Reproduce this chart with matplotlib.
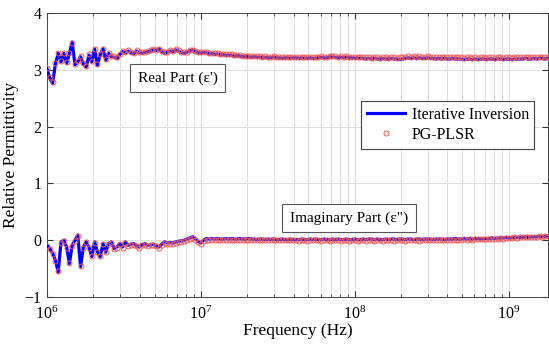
import numpy as np
import matplotlib
matplotlib.use("Agg")
import matplotlib.pyplot as plt
from matplotlib.ticker import LogLocator, NullFormatter

plt.rcParams["font.family"] = ["Liberation Serif", "DejaVu Serif"]
plt.rcParams["mathtext.fontset"] = "custom"
plt.rcParams["mathtext.rm"] = "Liberation Serif"
plt.rcParams["mathtext.it"] = "Liberation Serif:italic"

# Measurement grid: 180 log-spaced frequencies from 1 MHz to 1.8 GHz
freq_hz = np.geomspace(1e6, 1.8e9, 180)

real_iter = [
    3.02, 2.85, 2.76, 3.10, 3.29, 3.14, 3.29, 3.11, 3.29, 3.49,
    3.09, 3.14, 3.23, 3.10, 3.05, 3.26, 3.14, 3.37, 3.08, 3.26,
    3.37, 3.17, 3.29, 3.23, 3.22, 3.20, 3.27, 3.32, 3.30, 3.33,
    3.30, 3.28, 3.33, 3.31, 3.29, 3.31, 3.32, 3.33, 3.35, 3.34,
    3.37, 3.32, 3.29, 3.31, 3.33, 3.32, 3.35, 3.33, 3.31, 3.29,
    3.31, 3.33, 3.35, 3.32, 3.30, 3.29, 3.31, 3.30, 3.28, 3.29,
    3.27, 3.28, 3.26, 3.27, 3.25, 3.26, 3.25, 3.24, 3.25, 3.24,
    3.23, 3.24, 3.23, 3.22, 3.23, 3.22, 3.22, 3.21, 3.22, 3.21,
    3.21, 3.22, 3.21, 3.21, 3.20, 3.21, 3.21, 3.20, 3.21, 3.21,
    3.20, 3.21, 3.20, 3.20, 3.21, 3.20, 3.20, 3.21, 3.22, 3.21,
    3.21, 3.23, 3.22, 3.22, 3.21, 3.22, 3.21, 3.22, 3.21, 3.21,
    3.20, 3.21, 3.20, 3.20, 3.19, 3.20, 3.19, 3.20, 3.19, 3.19,
    3.20, 3.19, 3.19, 3.20, 3.19, 3.19, 3.18, 3.19, 3.20, 3.21,
    3.20, 3.21, 3.20, 3.21, 3.20, 3.20, 3.21, 3.20, 3.20, 3.19,
    3.20, 3.19, 3.20, 3.19, 3.19, 3.20, 3.19, 3.19, 3.19, 3.18,
    3.19, 3.19, 3.18, 3.19, 3.18, 3.19, 3.19, 3.18, 3.19, 3.19,
    3.18, 3.19, 3.19, 3.18, 3.19, 3.19, 3.18, 3.19, 3.19, 3.19,
    3.19, 3.20, 3.19, 3.19, 3.20, 3.19, 3.20, 3.20, 3.19, 3.20,
]

real_plsr = [
    3.04, 2.88, 2.79, 3.12, 3.30, 3.16, 3.30, 3.13, 3.30, 3.47,
    3.11, 3.15, 3.24, 3.12, 3.07, 3.27, 3.16, 3.37, 3.10, 3.27,
    3.37, 3.19, 3.30, 3.25, 3.24, 3.22, 3.28, 3.33, 3.31, 3.34,
    3.31, 3.30, 3.34, 3.32, 3.31, 3.32, 3.33, 3.34, 3.36, 3.35,
    3.37, 3.33, 3.31, 3.32, 3.34, 3.33, 3.36, 3.34, 3.32, 3.31,
    3.32, 3.34, 3.35, 3.33, 3.31, 3.31, 3.32, 3.31, 3.30, 3.30,
    3.29, 3.29, 3.28, 3.28, 3.27, 3.27, 3.27, 3.26, 3.26, 3.26,
    3.25, 3.25, 3.25, 3.24, 3.24, 3.24, 3.24, 3.23, 3.24, 3.23,
    3.23, 3.24, 3.23, 3.23, 3.22, 3.23, 3.23, 3.22, 3.23, 3.23,
    3.22, 3.23, 3.22, 3.22, 3.23, 3.22, 3.22, 3.23, 3.24, 3.23,
    3.23, 3.25, 3.24, 3.24, 3.23, 3.24, 3.23, 3.24, 3.23, 3.23,
    3.22, 3.23, 3.22, 3.22, 3.22, 3.22, 3.21, 3.22, 3.22, 3.21,
    3.22, 3.22, 3.21, 3.22, 3.22, 3.21, 3.22, 3.22, 3.23, 3.24,
    3.23, 3.24, 3.23, 3.24, 3.23, 3.23, 3.24, 3.23, 3.23, 3.22,
    3.23, 3.22, 3.23, 3.22, 3.22, 3.23, 3.22, 3.22, 3.22, 3.21,
    3.22, 3.22, 3.21, 3.22, 3.21, 3.22, 3.22, 3.21, 3.22, 3.22,
    3.21, 3.22, 3.22, 3.21, 3.22, 3.22, 3.21, 3.22, 3.22, 3.22,
    3.22, 3.23, 3.22, 3.22, 3.23, 3.22, 3.23, 3.23, 3.22, 3.23,
]

imag_iter = [
    -0.09, -0.15, -0.23, -0.35, -0.56, -0.03, 0.00, -0.12, -0.41, -0.09,
    0.00, 0.09, -0.47, -0.12, -0.03, -0.12, -0.29, -0.03, -0.20, -0.29,
    -0.06, -0.21, -0.06, -0.03, -0.15, -0.12, -0.06, -0.12, -0.03, -0.09,
    -0.07, -0.06, -0.10, -0.12, -0.08, -0.06, -0.09, -0.08, -0.07, -0.10,
    -0.12, -0.07, -0.03, -0.05, -0.04, -0.05, -0.03, -0.02, -0.01, 0.00,
    0.02, 0.04, 0.06, 0.03, -0.02, -0.05, 0.00, 0.03, 0.02, 0.03,
    0.02, 0.03, 0.02, 0.02, 0.03, 0.02, 0.03, 0.02, 0.02, 0.03,
    0.02, 0.02, 0.03, 0.02, 0.02, 0.01, 0.02, 0.02, 0.01, 0.02,
    0.01, 0.02, 0.01, 0.01, 0.02, 0.01, 0.01, 0.02, 0.01, 0.01,
    0.01, 0.02, 0.01, 0.01, 0.02, 0.01, 0.02, 0.01, 0.01, 0.02,
    0.01, 0.01, 0.02, 0.01, 0.02, 0.01, 0.01, 0.02, 0.01, 0.01,
    0.02, 0.01, 0.01, 0.02, 0.01, 0.02, 0.02, 0.01, 0.02, 0.01,
    0.01, 0.02, 0.01, 0.02, 0.02, 0.01, 0.02, 0.02, 0.01, 0.02,
    0.02, 0.01, 0.02, 0.02, 0.01, 0.02, 0.02, 0.02, 0.01, 0.02,
    0.02, 0.02, 0.01, 0.02, 0.02, 0.02, 0.03, 0.02, 0.02, 0.03,
    0.02, 0.03, 0.02, 0.03, 0.03, 0.02, 0.03, 0.03, 0.03, 0.04,
    0.03, 0.04, 0.04, 0.04, 0.05, 0.04, 0.05, 0.05, 0.05, 0.05,
    0.05, 0.06, 0.05, 0.06, 0.06, 0.06, 0.07, 0.06, 0.07, 0.07,
]

imag_plsr = [
    -0.10, -0.16, -0.24, -0.36, -0.54, -0.05, -0.01, -0.13, -0.40, -0.10,
    -0.01, 0.07, -0.45, -0.13, -0.04, -0.13, -0.28, -0.05, -0.21, -0.28,
    -0.07, -0.20, -0.07, -0.05, -0.16, -0.13, -0.07, -0.13, -0.05, -0.10,
    -0.08, -0.08, -0.11, -0.13, -0.09, -0.08, -0.10, -0.09, -0.09, -0.11,
    -0.13, -0.08, -0.05, -0.06, -0.06, -0.06, -0.05, -0.04, -0.03, -0.02,
    0.00, 0.02, 0.04, 0.01, -0.03, -0.06, -0.02, 0.01, 0.00, 0.01,
    0.00, 0.01, 0.00, 0.01, 0.01, 0.00, 0.01, 0.00, 0.01, 0.01,
    0.00, 0.01, 0.01, 0.00, 0.01, 0.00, 0.00, 0.01, 0.00, 0.01,
    0.00, 0.00, 0.00, 0.00, 0.01, 0.00, 0.00, 0.01, 0.00, 0.00,
    -0.01, 0.00, 0.00, -0.01, 0.00, 0.00, 0.01, 0.00, -0.01, 0.00,
    0.00, -0.01, 0.00, 0.00, 0.00, -0.01, 0.00, 0.00, -0.01, 0.00,
    0.00, -0.01, 0.00, 0.00, -0.01, 0.00, 0.00, -0.01, 0.00, 0.00,
    -0.01, 0.00, 0.00, 0.00, -0.01, 0.00, 0.00, 0.00, -0.01, 0.00,
    0.00, 0.00, 0.00, -0.01, 0.00, 0.00, 0.00, 0.00, 0.00, 0.01,
    0.00, 0.01, 0.00, 0.01, 0.01, 0.00, 0.01, 0.01, 0.01, 0.02,
    0.01, 0.02, 0.01, 0.02, 0.02, 0.02, 0.03, 0.02, 0.03, 0.03,
    0.03, 0.03, 0.04, 0.03, 0.04, 0.04, 0.04, 0.05, 0.04, 0.05,
    0.05, 0.05, 0.06, 0.05, 0.06, 0.06, 0.07, 0.06, 0.07, 0.07,
]

series_labels = ["Iterative Inversion", "PG-PLSR"]
part_labels = ["Real Part (ε')", 'Imaginary Part (ε")']
y_ticks = [-1, 0, 1, 2, 3, 4]

fig = plt.figure(figsize=(5.49, 3.44), dpi=100)
ax = fig.add_axes([0.0856, 0.1366, 0.9124, 0.8256])

line_kw = dict(color="#0000ff", linewidth=2.3, zorder=3)
mark_kw = dict(linestyle="none", marker="o", markersize=3.6,
               markerfacecolor="none", markeredgecolor="#ee5a5a",
               markeredgewidth=0.7, zorder=4)

ax.plot(freq_hz, real_iter, label=series_labels[0], **line_kw)
ax.plot(freq_hz, imag_iter, **line_kw)
ax.plot(freq_hz, real_plsr, label=series_labels[1], **mark_kw)
ax.plot(freq_hz, imag_plsr, **mark_kw)

ax.set_xscale("log")
ax.set_xlim(1e6, 1.8e9)
ax.set_ylim(-1, 4)
ax.set_yticks(y_ticks)
ax.xaxis.set_major_locator(LogLocator(base=10, numticks=10))
ax.xaxis.set_minor_locator(LogLocator(base=10, subs=np.arange(2, 10), numticks=20))
ax.xaxis.set_minor_formatter(NullFormatter())

ax.grid(True, which="major", axis="both", color="#dedede", linewidth=0.7)
ax.grid(True, which="minor", axis="x", color="#dedede", linewidth=0.7)
ax.set_axisbelow(True)

ax.tick_params(which="both", direction="in", top=True, right=True,
               labelsize=11.5, color="#333333")
ax.tick_params(which="major", length=4)
ax.tick_params(which="minor", length=2)
ax.tick_params(axis="x", which="major", pad=6)
ax.tick_params(axis="y", which="major", pad=4)
for sp in ax.spines.values():
    sp.set_color("#444444")
    sp.set_linewidth(0.7)

ax.set_xlabel("Frequency (Hz)", fontsize=12.5, labelpad=0)
ax.set_ylabel("Relative Permittivity", fontsize=12.5, labelpad=4)

box = dict(boxstyle="square,pad=0.5", facecolor="white",
           edgecolor="#555555", linewidth=0.8)
ax.text(0.261, 0.771, part_labels[0], transform=ax.transAxes,
        ha="center", va="center", fontsize=11, bbox=box, zorder=6)
ax.text(0.603, 0.278, part_labels[1], transform=ax.transAxes,
        ha="center", va="center", fontsize=11, bbox=box, zorder=6)

leg = ax.legend(loc="upper right", bbox_to_anchor=(0.973, 0.689),
                fontsize=11.5, frameon=True, fancybox=False,
                edgecolor="#444444", framealpha=1, handlelength=2.4,
                handletextpad=0.4, borderpad=0.35, labelspacing=0.25,
                borderaxespad=0.0)
leg.get_frame().set_linewidth(0.8)
leg.set_zorder(7)

fig.savefig("out.png", dpi=100)
